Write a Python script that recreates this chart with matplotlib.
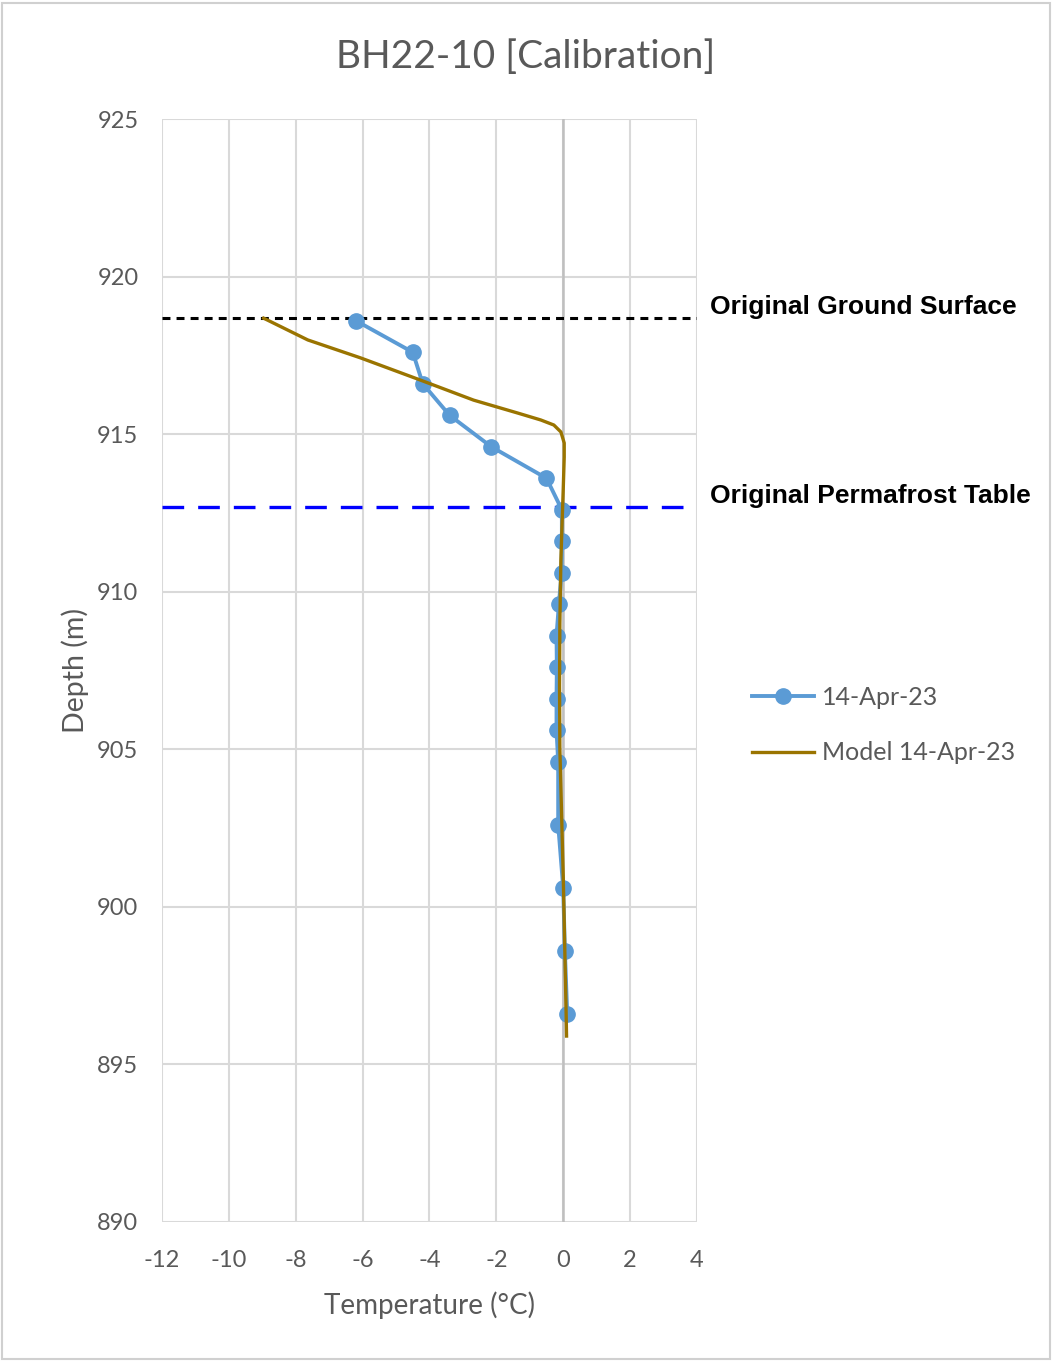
import matplotlib.pyplot as plt
from matplotlib.patches import Rectangle

# Measured temperatures (14-Apr-23)
depth_obs = [918.6, 917.6, 916.6, 915.6, 914.6, 913.6, 912.6, 911.6, 910.6, 909.6,
             908.6, 907.6, 906.6, 905.6, 904.6, 902.6, 900.6, 898.6, 896.6]
temp_obs = [-6.2, -4.5, -4.2, -3.4, -2.15, -0.5, -0.04, -0.04, -0.05, -0.13,
            -0.2, -0.19, -0.2, -0.2, -0.15, -0.15, 0.0, 0.05, 0.12]

# Model profile
depth_model = [918.68, 917.99, 917.42, 916.72, 916.08, 915.67, 915.45, 915.29, 915.07,
               914.72, 914.27, 913.23, 912.6, 911.0, 909.0, 907.0, 905.0, 903.0,
               901.0, 899.0, 897.0, 895.9]
temp_model = [-8.96, -7.64, -6.06, -4.28, -2.68, -1.36, -0.67, -0.28, -0.07,
              0.03, 0.03, 0.0, -0.02, -0.07, -0.1, -0.11, -0.1, -0.05,
              0.0, 0.04, 0.08, 0.1]

ground_surface = 918.68
permafrost_table = 912.7

x_ticks = [-12, -10, -8, -6, -4, -2, 0, 2, 4]
y_ticks = [890, 895, 900, 905, 910, 915, 920, 925]

grey = '#595959'
plt.rcParams['font.family'] = ['Lato', 'DejaVu Sans']
plt.rcParams['axes.unicode_minus'] = False

fig = plt.figure(figsize=(10.52, 13.62), dpi=100)
ax = fig.add_axes([0.154, 0.1028, 0.5085, 0.8098])

# figure border
fig.patches.append(Rectangle((0.002, 0.002), 0.996, 0.996, transform=fig.transFigure,
                             fill=False, edgecolor='#d0d0d0', linewidth=1.5))

ax.set_xlim(-12, 4)
ax.set_ylim(890, 925)
ax.set_xticks(x_ticks)
ax.set_yticks(y_ticks)
ax.grid(True, color='#d9d9d9', linewidth=1.5)
ax.set_axisbelow(True)
for s in ax.spines.values():
    s.set_visible(False)
ax.axvline(0, color='#bfbfbf', linewidth=1.8, zorder=1)
ax.tick_params(axis='x', length=0, labelsize=17, labelcolor=grey, pad=20)
ax.tick_params(axis='y', length=0, labelsize=17, labelcolor=grey, pad=17)

ax.axhline(ground_surface, color='black', linestyle=(0, (2.6, 2.0)), linewidth=2.2, zorder=2)
ax.axhline(permafrost_table, color='#0000ff', linestyle=(0, (6.5, 4.2)), linewidth=2.4, zorder=2)

ax.plot(temp_obs, depth_obs, color='#5B9BD5', linewidth=2.8, marker='o',
        markersize=11, label='14-Apr-23', zorder=3)
ax.plot(temp_model, depth_model, color='#9A7400', linewidth=2.4,
        label='Model 14-Apr-23', zorder=4)

fig.text(0.5, 0.958, 'BH22-10 [Calibration]', fontsize=28, color=grey, ha='center', va='center')
ax.set_xlabel('Temperature (°C)', fontsize=20, color=grey, labelpad=15)
ax.set_ylabel('Depth (m)', fontsize=20.5, color=grey, labelpad=6)

ax.text(1.025, ground_surface + 0.35, 'Original Ground Surface', transform=ax.get_yaxis_transform(),
        fontsize=19, fontweight='bold', family='Liberation Sans', va='center', ha='left')
ax.text(1.025, permafrost_table + 0.35, 'Original Permafrost Table', transform=ax.get_yaxis_transform(),
        fontsize=19, fontweight='bold', family='Liberation Sans', va='center', ha='left')

leg = ax.legend(loc='center left', bbox_to_anchor=(1.06, 0.4505), frameon=False,
                fontsize=18, labelcolor=grey, handlelength=2.5, labelspacing=1.3,
                handletextpad=0.3)

fig.savefig('out.png', dpi=100)
